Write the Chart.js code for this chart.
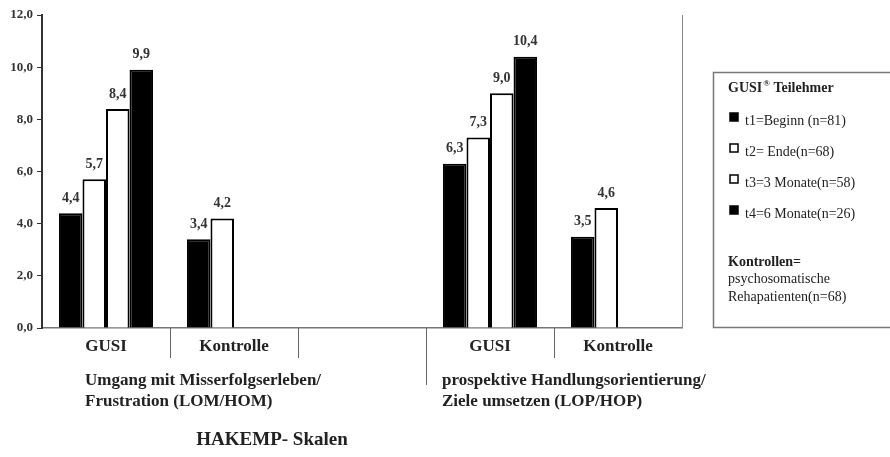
<!DOCTYPE html>
<html>
<head>
<meta charset="utf-8">
<script src="https://cdn.jsdelivr.net/npm/chart.js@4.4.1/dist/chart.umd.min.js"></script>
<style>
  html, body { margin: 0; padding: 0; background: #fff; }
  #container { width: 890px; height: 457px; }
</style>
</head>
<body>
<div id="container"><canvas id="myChart" width="890" height="457"></canvas></div>
<script>
// categories on the x axis (third slot is the gap between the two scales)
const categories = ['GUSI', 'Kontrolle', '', 'GUSI', 'Kontrolle'];
const scaleNames = [
    ['Umgang mit Misserfolgserleben/', 'Frustration (LOM/HOM)'],
    ['prospektive Handlungsorientierung/', 'Ziele umsetzen (LOP/HOP)']
];
const seriesLabels = ['t1=Beginn (n=81)', 't2= Ende(n=68)', 't3=3 Monate(n=58)', 't4=6 Monate(n=26)'];
const t1 = [4.4, 3.4, null, 6.3, 3.5];
const t2 = [5.7, 4.2, null, 7.3, 4.6];
const t3 = [8.4, null, null, 9.0, null];
const t4 = [9.9, null, null, 10.4, null];
const yTicks = [0, 2, 4, 6, 8, 10, 12];
const legendTitle = 'GUSI';
const legendNote = ['Kontrollen=', 'psychosomatische', 'Rehapatienten(n=68)'];
const chartTitle = 'HAKEMP- Skalen';

const SERIF = '"Liberation Serif", "Times New Roman", serif';
const fmt = v => v.toFixed(1).replace('.', ',');

// value labels above the bars
const barLabels = {
    id: 'barLabels',
    afterDatasetsDraw(chart) {
        const ctx = chart.ctx;
        ctx.save();
        ctx.font = 'bold 14px ' + SERIF;
        ctx.fillStyle = '#333';
        ctx.textAlign = 'center';
        ctx.textBaseline = 'bottom';
        chart.data.datasets.forEach((ds, i) => {
            chart.getDatasetMeta(i).data.forEach((bar, j) => {
                if (ds.data[j] == null) return;
                ctx.fillText(fmt(ds.data[j]), bar.x, bar.y - 8);
            });
        });
        ctx.restore();
    }
};

// separators under the axis, scale names, title, right border and legend box
const decorations = {
    id: 'decorations',
    afterDraw(chart) {
        const ctx = chart.ctx;
        const area = chart.chartArea;
        const x = chart.scales.x;
        const step = x.getPixelForValue(1) - x.getPixelForValue(0);
        ctx.save();

        // right frame line
        ctx.strokeStyle = '#888';
        ctx.lineWidth = 1;
        ctx.beginPath();
        ctx.moveTo(area.right + 0.5, area.top);
        ctx.lineTo(area.right + 0.5, area.bottom);
        ctx.stroke();

        // separators between categories
        ctx.strokeStyle = '#666';
        for (let i = 1; i < categories.length; i++) {
            const px = Math.round(x.getPixelForValue(i) - step / 2) + 0.5;
            const len = i === 3 ? 57 : 30;
            ctx.beginPath();
            ctx.moveTo(px, area.bottom);
            ctx.lineTo(px, area.bottom + len);
            ctx.stroke();
        }

        // scale names
        ctx.fillStyle = '#222';
        ctx.font = 'bold 17px ' + SERIF;
        ctx.textAlign = 'left';
        ctx.textBaseline = 'middle';
        const starts = [x.getPixelForValue(0) - 21, x.getPixelForValue(3) - 48];
        scaleNames.forEach((lines, k) => {
            lines.forEach((line, n) => {
                ctx.fillText(line, starts[k], area.bottom + 53 + n * 21);
            });
        });

        // title
        ctx.font = 'bold 19px ' + SERIF;
        ctx.textAlign = 'center';
        ctx.fillText(chartTitle, x.getPixelForValue(1) + 38, area.bottom + 112);

        // legend box
        const bx = area.right + 31;
        const by = area.top + 57;
        ctx.strokeStyle = '#777';
        ctx.lineWidth = 1.5;
        ctx.strokeRect(bx + 0.5, by + 0.5, chart.width - bx + 10, area.bottom - by - 1);

        ctx.textAlign = 'left';
        ctx.fillStyle = '#222';
        ctx.font = 'bold 14px ' + SERIF;
        let tx = bx + 15;
        ctx.fillText(legendTitle, tx, by + 16);
        tx += ctx.measureText(legendTitle).width + 1;
        ctx.font = 'bold 9px ' + SERIF;
        ctx.fillText('\u00ae', tx, by + 12);
        tx += ctx.measureText('\u00ae').width;
        ctx.font = 'bold 14px ' + SERIF;
        ctx.fillText(' Teilehmer', tx, by + 16);

        ctx.font = '14px ' + SERIF;
        chart.data.datasets.forEach((ds, i) => {
            const ly = by + 49 + i * 31;
            ctx.fillStyle = ds.backgroundColor;
            ctx.fillRect(bx + 17, ly - 8, 8, 8);
            ctx.strokeStyle = '#000';
            ctx.lineWidth = 1.5;
            ctx.strokeRect(bx + 17, ly - 8, 8, 8);
            ctx.fillStyle = '#222';
            ctx.fillText(ds.label, bx + 32, ly);
        });

        legendNote.forEach((line, n) => {
            ctx.font = (n === 0 ? 'bold ' : '') + '14px ' + SERIF;
            ctx.fillText(line, bx + 15, by + 190 + n * 17.5);
        });
        ctx.restore();
    }
};

function makeDataset(label, data, fill) {
    return {
        label: label,
        data: data,
        backgroundColor: fill,
        borderColor: '#000',
        borderWidth: 2,
        borderSkipped: 'bottom'
    };
}

window.addEventListener('load', setup);

function setup() {
    const ctx = document.getElementById('myChart').getContext('2d');
    new Chart(ctx, {
        type: 'bar',
        data: {
            labels: categories,
            datasets: [
                makeDataset(seriesLabels[0], t1, '#000'),
                makeDataset(seriesLabels[1], t2, '#fff'),
                makeDataset(seriesLabels[2], t3, '#fff'),
                makeDataset(seriesLabels[3], t4, '#000')
            ]
        },
        options: {
            responsive: false,
            animation: false,
            layout: { padding: { left: 0, right: 208, top: 15, bottom: 0 } },
            datasets: {
                bar: { categoryPercentage: 0.735, barPercentage: 1.0 }
            },
            plugins: {
                legend: { display: false },
                tooltip: { enabled: false },
                title: { display: false }
            },
            scales: {
                x: {
                    grid: { display: true, drawOnChartArea: false, drawTicks: false },
                    border: { display: true, color: '#777', width: 1.5 },
                    ticks: {
                        color: '#222',
                        padding: 8,
                        font: { family: SERIF, size: 17, weight: 'bold' }
                    },
                    afterFit(scale) { scale.height = 129; }
                },
                y: {
                    min: 0,
                    max: 12,
                    afterBuildTicks(scale) { scale.ticks = yTicks.map(v => ({ value: v })); },
                    grid: { drawOnChartArea: false, drawTicks: true, tickLength: 5, color: '#333' },
                    border: { display: true, color: '#333', width: 2 },
                    ticks: {
                        color: '#333',
                        padding: 4,
                        font: { family: SERIF, size: 13, weight: 'bold' },
                        callback: v => fmt(v)
                    },
                    afterFit(scale) { scale.width = 42; }
                }
            }
        },
        plugins: [barLabels, decorations]
    });
}
</script>
</body>
</html>
